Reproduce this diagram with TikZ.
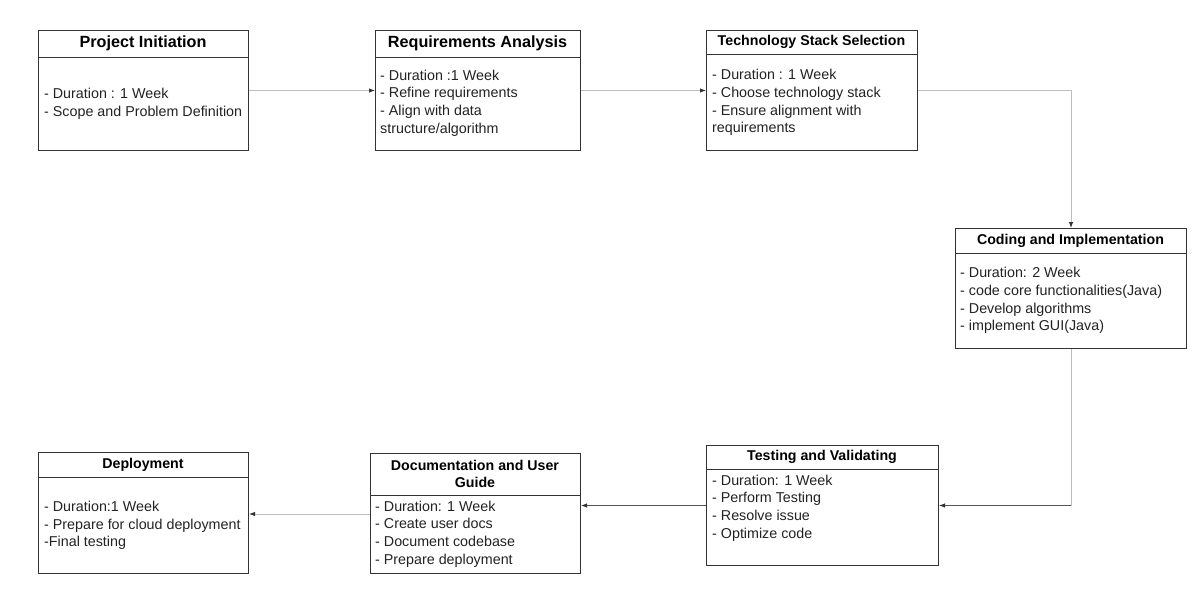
\documentclass[tikz,border=0pt]{standalone}
\usepackage{fontspec}
\setmainfont{Liberation Sans}
\usetikzlibrary{arrows.meta}
\definecolor{boxc}{HTML}{333333}
\definecolor{lightc}{HTML}{BDBDBD}
\definecolor{darkc}{HTML}{555555}
\definecolor{txtc}{HTML}{222222}
\begin{document}
\begin{tikzpicture}[x=1pt,y=-1pt,
  box/.style={draw=boxc, line width=1pt, inner sep=0pt, anchor=north west},
  hd/.style={font=\bfseries\fontsize{14.2}{17}\selectfont, align=center, inner sep=0pt, text=black},
  hdbig/.style={font=\bfseries\fontsize{16.2}{19}\selectfont, align=center, inner sep=0pt, text=black},
  bd/.style={font=\fontsize{14.3}{17.6}\selectfont, align=left, anchor=west, inner sep=0pt, text=txtc},
  sep/.style={draw=boxc, line width=0.9pt},
  tip/.style={-{Latex[length=6pt,width=4.5pt,color=black!80]}},
  lconn/.style={draw=lightc, line width=0.9pt},
  dconn/.style={draw=darkc, line width=0.9pt}]
\path[use as bounding box] (0,0) rectangle (1202,592);

% boxes
\node[box, minimum width=210pt, minimum height=120pt] (b1) at (38,30) {};
\node[box, minimum width=205pt, minimum height=120pt] (b2) at (375,30) {};
\node[box, minimum width=211pt, minimum height=120pt] (b3) at (706,30) {};
\node[box, minimum width=231pt, minimum height=120pt] (b4) at (955,228) {};
\node[box, minimum width=232pt, minimum height=120pt] (b5) at (706,445) {};
\node[box, minimum width=210pt, minimum height=120pt] (b6) at (370,453) {};
\node[box, minimum width=210pt, minimum height=121pt] (b7) at (38,452) {};

% header separators
\draw[sep] (38,57) -- (248,57);
\draw[sep] (375,57) -- (580,57);
\draw[sep] (706,54) -- (917,54);
\draw[sep] (955,253) -- (1186,253);
\draw[sep] (706,469) -- (938,469);
\draw[sep] (370,495) -- (580,495);
\draw[sep] (38,477) -- (248,477);

% headers
\node[hdbig] (h1) at (143,43) {Project Initiation};
\node[hdbig] (h2) at (477.5,43) {Requirements Analysis};
\node[hd] (h3) at (811.5,42) {Technology Stack Selection};
\node[hd] (h4) at (1070.5,241) {Coding and Implementation};
\node[hd] (h5) at (822,457) {Testing and Validating};
\node[hd] (h6) at (475,474) {Documentation and User\\Guide};
\node[hd] (h7) at (143,465) {Deployment};

% bodies
\node[bd] (t1) at (44,103.5) {- Duration : 1 Week\\- Scope and Problem Definition};
\node[bd] (t2) at (380,103) {- Duration :1 Week\\- Refine requirements\\- Align with data\\structure/algorithm};
\node[bd] (t3) at (712,102.5) {- Duration : 1 Week\\- Choose technology stack\\- Ensure alignment with\\requirements};
\node[bd] (t4) at (960,300.5) {- Duration: 2 Week\\- code core functionalities(Java)\\- Develop algorithms\\- implement GUI(Java)};
\node[bd] (t5) at (712,508) {- Duration: 1 Week\\- Perform Testing\\- Resolve issue\\- Optimize code};
\node[bd] (t6) at (375,534) {- Duration: 1 Week\\- Create user docs\\- Document codebase\\- Prepare deployment};
\node[bd] (t7) at (44,525.5) {- Duration:1 Week\\- Prepare for cloud deployment\\-Final testing};

% connectors
\draw[lconn, tip] (b1.east) -- (b2.west);
\draw[lconn, tip] (b2.west -| b2.east) -- (b3.west);
\draw[lconn, tip] (b3.east) -| (b4.north);
\coordinate (c45) at (b4.south |- b5.east);
\draw[lconn] (b4.south) -- (c45);
\draw[dconn, tip] (c45) -- (b5.east);
\draw[dconn, tip] (b5.west) -- (b6.east |- b5.west);
\coordinate (c67) at (b6.west |- 0,514);
\draw[lconn, tip] (c67) -- (b7.east |- c67);
\end{tikzpicture}
\end{document}
